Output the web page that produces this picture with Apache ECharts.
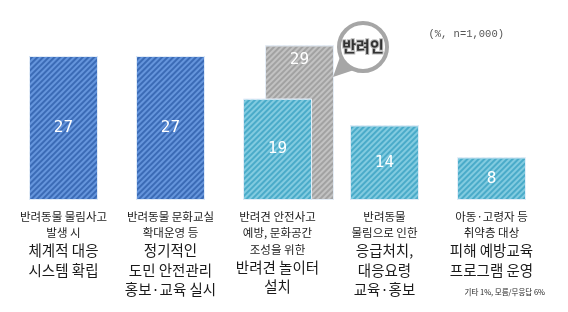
<!DOCTYPE html>
<html><head><meta charset="utf-8">
<script src="https://cdn.jsdelivr.net/npm/echarts@6/dist/echarts.min.js"></script>
<style>html,body{margin:0;padding:0;background:#fff}#c{width:568px;height:312px}</style>
</head><body><div id="c"></div>
<script>
const catSmall = [
  ['반려동물 물림사고', '발생 시'],
  ['반려동물 문화교실', '확대운영 등'],
  ['반려견 안전사고', '예방, 문화공간', '조성을 위한'],
  ['반려동물', '물림으로 인한'],
  ['아동·고령자 등', '취약층 대상']
];
const catLarge = [
  ['체계적 대응', '시스템 확립'],
  ['정기적인', '도민 안전관리', '홍보·교육 실시'],
  ['반려견 놀이터', '설치'],
  ['응급처치,', '대응요령', '교육·홍보'],
  ['피해 예방교육', '프로그램 운영']
];
const categories = catSmall.map((s, i) => i);
const allValues = [27, 27, 19, 14, 8];
const ownerValues = [null, null, 29, null, null];
const unitNote = '(%, n=1,000)';
const footNote = '기타 1%, 모름/무응답 6%';
const badgeText = '반려인';

const darkBlue = {base: '#3b6bb6', stripe: '#6595dc'};
const teal = {base: '#4aabc9', stripe: '#82cbe0'};
const grey = {base: '#a2a2a2', stripe: '#c2c2c2'};
function sty(c) {
  return {
    color: c.base, borderColor: 'rgba(230,238,248,0.9)', borderWidth: 1,
    decal: {symbol: 'rect', symbolSize: 1, dashArrayX: [1, 0], dashArrayY: [2, 2], rotation: -Math.PI / 4, color: c.stripe}
  };
}
const numFont = {color: '#fff', fontFamily: 'DejaVu Sans Mono', fontSize: 16};

const chart = echarts.init(document.getElementById('c'));
chart.setOption({
  animation: false,
  grid: [
    {left: 10, width: 535, top: 40, height: 160},
    {left: 32, width: 535, top: 40, height: 160}
  ],
  xAxis: [
    {type: 'category', data: categories, gridIndex: 0,
     axisLine: {show: false}, axisTick: {show: false},
     axisLabel: {interval: 0, margin: 8, verticalAlign: 'top',
       formatter: function (v, i) {
         const s = catSmall[i].map(t => '{s|' + t + '}');
         const l = catLarge[i].map(t => '{l|' + t + '}');
         return s.concat(l).join('\n');
       },
       rich: {
         s: {fontFamily: 'Noto Sans CJK KR', fontSize: 11.5, lineHeight: 16.5, color: '#1a1a1a'},
         l: {fontFamily: 'Noto Sans CJK KR', fontSize: 14.5, lineHeight: 19.5, color: '#1a1a1a'}
       }}},
    {type: 'category', data: categories, gridIndex: 1, show: false}
  ],
  yAxis: [
    {type: 'value', min: 0, max: 30, gridIndex: 0, show: false},
    {type: 'value', min: 0, max: 30, gridIndex: 1, show: false}
  ],
  series: [
    {type: 'bar', xAxisIndex: 1, yAxisIndex: 1, barWidth: 69, z: 1,
     data: ownerValues.map(v => ({value: v, itemStyle: sty(grey)})),
     label: Object.assign({show: true, position: 'insideTop', distance: 7}, numFont)},
    {type: 'bar', xAxisIndex: 0, yAxisIndex: 0, barWidth: 69, z: 2,
     data: allValues.map((v, i) => ({value: v, itemStyle: sty(i < 2 ? darkBlue : teal)})),
     label: Object.assign({show: true, position: 'inside'}, numFont)}
  ],
  graphic: [
    {type: 'text', right: 64, top: 29, style: {text: unitNote, fontFamily: 'Liberation Mono', fontSize: 10.5, fill: '#555'}},
    {type: 'text', right: 23, top: 288, style: {text: footNote, fontFamily: 'Noto Sans CJK KR', fontSize: 7.5, fill: '#222'}},
    {type: 'polygon', shape: {points: [[340, 57], [333, 77], [354, 70]]}, style: {fill: '#a6a6a6'}, z: 10},
    {type: 'circle', shape: {cx: 363, cy: 47, r: 24}, style: {fill: '#fff', stroke: '#a6a6a6', lineWidth: 4}, z: 11},
    {type: 'text', x: 363, y: 46, z: 12, style: {text: badgeText, align: 'center', verticalAlign: 'middle',
      fontFamily: 'Noto Sans CJK KR', fontWeight: 'bold', fontSize: 15, fill: '#333', stroke: '#bbb', lineWidth: 2}}
  ]
});
</script></body></html>
